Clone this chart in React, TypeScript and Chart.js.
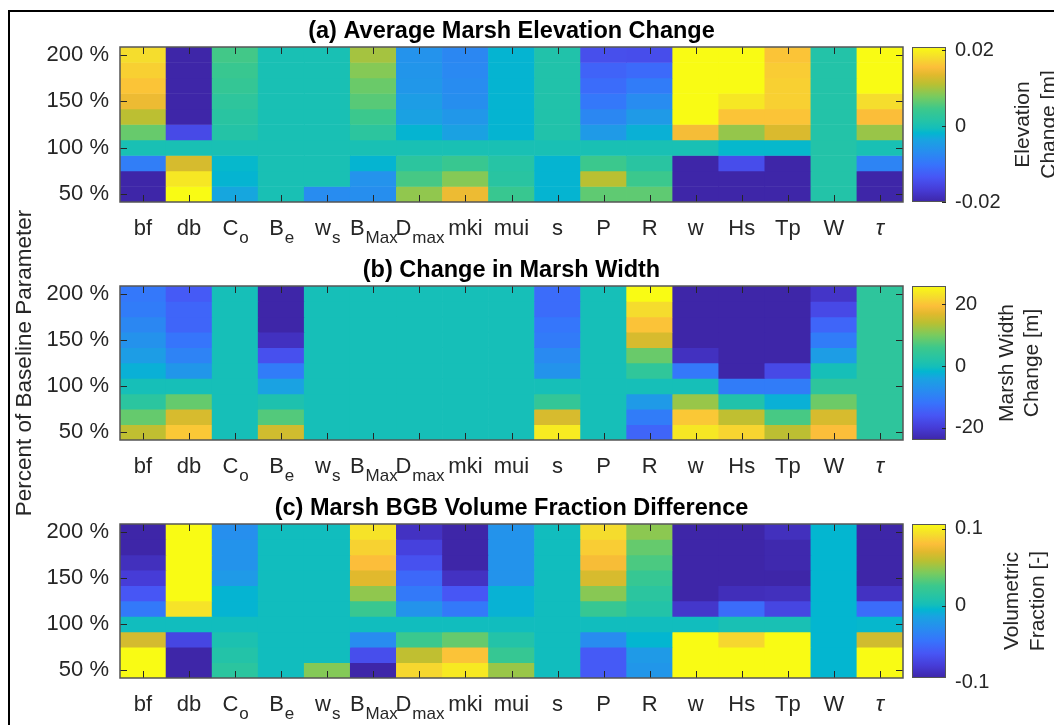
import React, { useEffect, useRef } from "react";
import { Chart, registerables } from "chart.js";

Chart.register(...registerables);

const FONT = "'Liberation Sans', Arial, Helvetica, sans-serif";

// Categories (x) — "_" marks a subscript
const parameters = ["bf", "db", "C_o", "B_e", "w_s", "B_Max", "D_max", "mki", "mui", "s", "P", "R", "w", "Hs", "Tp", "W", "τ"];
// Rows: percent of baseline parameter, top (200 %) to bottom (50 %)
const percentLevels = [200, 183.33, 166.67, 150, 133.33, 116.67, 100, 83.33, 66.67, 50];
const percentTicks = [50, 100, 150, 200];

// (a) Average marsh elevation change [m]
const elevationChange = [
  [0.018, -0.021, 0.0048, 0, 0, 0.010, -0.006, -0.0076, -0.002, 0.001, -0.0144, -0.0146, 0.021, 0.021, 0.016, 0.0012, 0.021],
  [0.017, -0.021, 0.004, 0, 0, 0.0084, -0.0056, -0.0074, -0.002, 0.001, -0.012, -0.0112, 0.021, 0.021, 0.0166, 0.0012, 0.021],
  [0.016, -0.021, 0.0034, 0, 0, 0.007, -0.0054, -0.007, -0.002, 0.001, -0.011, -0.009, 0.021, 0.021, 0.017, 0.0012, 0.021],
  [0.0144, -0.021, 0.0026, 0, 0, 0.006, -0.0046, -0.0066, -0.002, 0.001, -0.0096, -0.007, 0.021, 0.019, 0.017, 0.0012, 0.018],
  [0.0112, -0.021, 0.002, 0, 0, 0.0044, -0.004, -0.0054, -0.002, 0.001, -0.0076, -0.005, 0.021, 0.016, 0.016, 0.0012, 0.0154],
  [0.0068, -0.015, 0.0014, 0, 0, 0.0024, -0.002, -0.004, -0.002, 0.001, -0.005, -0.0024, 0.015, 0.0092, 0.013, 0.0012, 0.0094],
  [0, 0, 0, 0, 0, 0, 0, 0, 0, 0, 0, 0, 0, -0.0016, -0.0016, 0.0012, 0],
  [-0.0088, 0.0128, -0.0016, 0, 0, -0.002, 0.0024, 0.004, 0.0016, -0.002, 0.0044, 0.002, -0.021, -0.0146, -0.021, 0.0012, -0.008],
  [-0.021, 0.019, -0.002, 0, 0, -0.006, 0.005, 0.0084, 0.002, -0.002, 0.011, 0.0044, -0.021, -0.021, -0.021, 0.0012, -0.021],
  [-0.021, 0.021, -0.0034, 0, -0.007, -0.0066, 0.009, 0.0144, 0.004, -0.002, 0.0064, 0.0064, -0.021, -0.021, -0.021, 0.0012, -0.021],
];

// (b) Change in marsh width [m]
const widthChange = [
  [-11.25, -15.5, 0, -25, 0, 0, 0, 0, 0, -13, 0, 26, -25, -25, -25, -21.25, 3.75],
  [-10.5, -14, 0, -25, 0, 0, 0, 0, 0, -13, 0, 22.5, -25, -25, -25, -18, 3.75],
  [-8.75, -14, 0, -25, 0, 0, 0, 0, 0, -11.5, 0, 20, -25, -25, -25, -14, 3.75],
  [-7, -11.75, 0, -22, 0, 0, 0, 0, 0, -10.75, 0, 16.25, -25, -25, -25, -10.5, 3.75],
  [-5, -9.5, 0, -17, 0, 0, 0, 0, 0, -8.25, 0, 9, -22, -25, -25, -5, 3.75],
  [-2.5, -6.25, 0, -10.5, 0, 0, 0, 0, 0, -6.75, 0, 4, -11.25, -24, -18, 0, 3.75],
  [0, 0, 0, -4.25, 0, 0, 0, 0, 0, 0, 0, 0, 0, -10.5, -10.5, 3.75, 3.75],
  [3.25, 8.75, 0, 1.25, 0, 0, 0, 0, 0, 4.5, 0, -5.5, 12, 1.75, -2.5, 9.25, 3.75],
  [8.75, 16.25, 0, 7.5, 0, 0, 0, 0, 0, 16.25, 0, -10.5, 20.5, 14.5, 6.75, 16.25, 3.75],
  [14.5, 20.5, 0, 15.75, 0, 0, 0, 0, 0, 24.25, 0, -14, 23.75, 21.75, 14.25, 19.5, 3.75],
];

// (c) Marsh BGB volume fraction difference [-]
const bgbFraction = [
  [-0.1, 0.11, -0.028, 0, 0, 0.095, -0.085, -0.1, -0.025, 0, 0.092, 0.047, -0.1, -0.1, -0.087, -0.005, -0.1],
  [-0.1, 0.11, -0.025, 0, 0, 0.088, -0.075, -0.1, -0.025, 0, 0.086, 0.037, -0.1, -0.1, -0.092, -0.005, -0.1],
  [-0.087, 0.11, -0.025, 0, 0, 0.08, -0.065, -0.1, -0.025, 0, 0.078, 0.03, -0.1, -0.1, -0.092, -0.005, -0.1],
  [-0.078, 0.11, -0.02, 0, 0, 0.07, -0.052, -0.085, -0.025, 0, 0.067, 0.022, -0.1, -0.1, -0.095, -0.005, -0.1],
  [-0.062, 0.11, -0.006, 0, 0, 0.048, -0.042, -0.062, -0.007, 0, 0.046, 0.015, -0.1, -0.088, -0.087, -0.005, -0.085],
  [-0.042, 0.095, -0.006, 0, 0, 0.024, -0.025, -0.042, -0.007, 0, 0.022, 0.01, -0.082, -0.05, -0.072, -0.005, -0.05],
  [0, 0, 0, 0, 0, 0, 0, 0, 0, 0, 0, 0, 0, 0.004, 0.004, -0.005, -0.004],
  [0.066, -0.072, 0.006, 0, 0, -0.03, 0.025, 0.037, 0.01, 0, -0.03, -0.005, 0.11, 0.09, 0.11, -0.005, 0.065],
  [0.11, -0.1, 0.01, 0, 0, -0.067, 0.06, 0.082, 0.022, 0, -0.06, -0.02, 0.11, 0.11, 0.11, -0.005, 0.11],
  [0.11, -0.1, 0.015, 0, 0.045, -0.1, 0.09, 0.098, 0.05, 0, -0.06, -0.023, 0.11, 0.11, 0.11, -0.005, 0.11],
];

// Colour-bar ticks
const elevTicks = [-0.02, 0, 0.02];
const elevTickLabels = ["-0.02", "0", "0.02"];
const widthTicks = [-20, 0, 20];
const widthTickLabels = ["-20", "0", "20"];
const bgbTicks = [-0.1, 0, 0.1];
const bgbTickLabels = ["-0.1", "0", "0.1"];

// parula-like colormap stops
const parulaStops: [number, number, number, number][] = [
  [0.0, 62, 38, 168],
  [0.08, 70, 60, 215],
  [0.16, 71, 86, 245],
  [0.24, 55, 115, 252],
  [0.32, 40, 140, 240],
  [0.4, 25, 163, 225],
  [0.445, 3, 182, 208],
  [0.475, 20, 190, 186],
  [0.52, 35, 195, 168],
  [0.6, 60, 200, 140],
  [0.68, 120, 203, 95],
  [0.76, 185, 192, 50],
  [0.82, 225, 185, 45],
  [0.87, 252, 190, 58],
  [0.93, 245, 220, 45],
  [1.0, 249, 251, 20],
];

function parula(t: number): string {
  const x = Math.max(0, Math.min(1, t));
  for (let i = 1; i < parulaStops.length; i++) {
    const [t1, r1, g1, b1] = parulaStops[i];
    const [t0, r0, g0, b0] = parulaStops[i - 1];
    if (x <= t1) {
      const f = (x - t0) / (t1 - t0);
      return `rgb(${Math.round(r0 + (r1 - r0) * f)},${Math.round(g0 + (g1 - g0) * f)},${Math.round(b0 + (b1 - b0) * f)})`;
    }
  }
  return "rgb(249,251,20)";
}

type PanelCfg = {
  id: string;
  title: string;
  rows: number[][];
  min: number;
  max: number;
  cbTicks: number[];
  cbTickLabels: string[];
  cbTitle: string[];
  top: number;
  height: number;
  padTop: number;
  padBottom: number;
  yLabel: boolean;
};

const panels: PanelCfg[] = [
  {
    id: "a", title: "(a) Average Marsh Elevation Change", rows: elevationChange,
    min: -0.02, max: 0.0208, cbTicks: elevTicks, cbTickLabels: elevTickLabels,
    cbTitle: ["Elevation", "Change [m]"], top: 0, height: 250, padTop: 47, padBottom: 48, yLabel: false,
  },
  {
    id: "b", title: "(b) Change in Marsh Width", rows: widthChange,
    min: -24, max: 26, cbTicks: widthTicks, cbTickLabels: widthTickLabels,
    cbTitle: ["Marsh Width", "Change [m]"], top: 190, height: 345, padTop: 96, padBottom: 95, yLabel: true,
  },
  {
    id: "c", title: "(c) Marsh BGB Volume Fraction Difference", rows: bgbFraction,
    min: -0.094, max: 0.106, cbTicks: bgbTicks, cbTickLabels: bgbTickLabels,
    cbTitle: ["Volumetric", "Fraction [-]"], top: 478, height: 247, padTop: 46, padBottom: 47, yLabel: false,
  },
];

const HM_W = 910;
const CB_LEFT = 905;
const CB_W = 149;

function heatmapPlugin(p: PanelCfg) {
  return {
    id: "matlabAxes" + p.id,
    afterDraw(chart: any) {
      const { ctx, chartArea: a, scales } = chart;
      const xs = scales.x;
      const ys = scales.y;
      ctx.save();
      // inward tick marks
      ctx.strokeStyle = "#262626";
      ctx.lineWidth = 1;
      ctx.beginPath();
      percentTicks.forEach((v) => {
        const y = Math.round(ys.getPixelForValue(v)) + 0.5;
        ctx.moveTo(a.left, y);
        ctx.lineTo(a.left + 7, y);
        ctx.moveTo(a.right, y);
        ctx.lineTo(a.right - 7, y);
      });
      parameters.forEach((_, i) => {
        const x = Math.round(xs.getPixelForValue(i)) + 0.5;
        ctx.moveTo(x, a.top);
        ctx.lineTo(x, a.top + 7);
        ctx.moveTo(x, a.bottom);
        ctx.lineTo(x, a.bottom - 7);
      });
      ctx.stroke();
      // box
      ctx.strokeStyle = "#555555";
      ctx.lineWidth = 1.5;
      ctx.strokeRect(a.left, a.top, a.right - a.left, a.bottom - a.top);
      // x labels with subscripts
      ctx.fillStyle = "#262626";
      ctx.textBaseline = "alphabetic";
      ctx.textAlign = "left";
      const base = a.bottom + 33;
      parameters.forEach((name, i) => {
        const [main, sub] = name.split("_");
        const mainFont = main === "τ" ? `italic 22px ${FONT}` : `22px ${FONT}`;
        const subFont = `17px ${FONT}`;
        ctx.font = mainFont;
        const mw = ctx.measureText(main).width;
        let sw = 0;
        if (sub) {
          ctx.font = subFont;
          sw = ctx.measureText(sub).width;
        }
        const cx = xs.getPixelForValue(i);
        const start = cx - (mw + sw) / 2;
        ctx.font = mainFont;
        ctx.fillText(main, start, base);
        if (sub) {
          ctx.font = subFont;
          ctx.fillText(sub, start + mw + 1, base + 8);
        }
      });
      // title
      ctx.fillStyle = "#000000";
      ctx.font = `bold 23.5px ${FONT}`;
      ctx.textAlign = "center";
      ctx.fillText(p.title, (a.left + a.right) / 2, a.top - 9);
      // shared y-axis label
      if (p.yLabel) {
        ctx.save();
        ctx.translate(25, (a.top + a.bottom) / 2);
        ctx.rotate(-Math.PI / 2);
        ctx.font = `22.5px ${FONT}`;
        ctx.fillStyle = "#262626";
        ctx.textAlign = "center";
        ctx.textBaseline = "middle";
        ctx.fillText("Percent of Baseline Parameter", 0, 0);
        ctx.restore();
      }
      ctx.restore();
    },
  };
}

function colorbarPlugin(p: PanelCfg) {
  return {
    id: "cbar" + p.id,
    afterDraw(chart: any) {
      const { ctx, chartArea: a, scales } = chart;
      ctx.save();
      ctx.strokeStyle = "#555555";
      ctx.lineWidth = 1;
      ctx.strokeRect(a.left + 0.5, a.top + 0.5, a.right - a.left - 1, a.bottom - a.top - 1);
      ctx.strokeStyle = "#262626";
      ctx.beginPath();
      p.cbTicks.forEach((v) => {
        if (v < p.min || v > p.max) return;
        const y = Math.round(scales.y.getPixelForValue(v)) + 0.5;
        ctx.moveTo(a.right, y);
        ctx.lineTo(a.right - 4, y);
      });
      ctx.stroke();
      ctx.font = `20px ${FONT}`;
      const maxW = Math.max(...p.cbTickLabels.map((s) => ctx.measureText(s).width));
      ctx.font = `21px ${FONT}`;
      ctx.fillStyle = "#262626";
      ctx.textAlign = "center";
      ctx.textBaseline = "middle";
      const cy = (a.top + a.bottom) / 2;
      p.cbTitle.forEach((line, k) => {
        const x = a.right + 9 + maxW + 23 + k * 25.5;
        ctx.save();
        ctx.translate(x, cy);
        ctx.rotate(-Math.PI / 2);
        ctx.fillText(line, 0, 0);
        ctx.restore();
      });
      ctx.restore();
    },
  };
}

function Panel({ p }: { p: PanelCfg }) {
  const hmRef = useRef<HTMLCanvasElement>(null);
  const cbRef = useRef<HTMLCanvasElement>(null);

  useEffect(() => {
    const half = (percentLevels[0] - percentLevels[percentLevels.length - 1]) / (percentLevels.length - 1) / 2;
    const yMin = percentLevels[percentLevels.length - 1] - half;
    const yMax = percentLevels[0] + half;
    const datasets = p.rows.map((row, ri) => ({
      label: `${percentLevels[ri]} %`,
      data: row.map(() => [percentLevels[ri] - half, percentLevels[ri] + half]),
      backgroundColor: row.map((v) => parula((v - p.min) / (p.max - p.min))),
      borderWidth: 0,
      barPercentage: 1,
      categoryPercentage: 1,
      grouped: false,
    }));
    const hm = new Chart(hmRef.current as HTMLCanvasElement, {
      type: "bar",
      data: { labels: parameters, datasets: datasets as any },
      options: {
        responsive: false,
        animation: false,
        layout: { padding: { top: p.padTop, bottom: p.padBottom, left: 0, right: 7 } },
        plugins: { legend: { display: false }, tooltip: { enabled: false }, title: { display: false } },
        scales: {
          x: { display: false, grid: { display: false } },
          y: {
            min: yMin,
            max: yMax,
            grid: { display: false, drawTicks: false },
            border: { display: false },
            afterBuildTicks: (s: any) => {
              s.ticks = percentTicks.map((v) => ({ value: v }));
            },
            afterFit: (s: any) => {
              s.width = 120;
            },
            ticks: {
              padding: 11,
              color: "#262626",
              font: { family: FONT, size: 22 },
              callback: (v: any) => `${v} %`,
            },
          },
        },
      } as any,
      plugins: [heatmapPlugin(p)],
    });

    const cb = new Chart(cbRef.current as HTMLCanvasElement, {
      type: "bar",
      data: {
        labels: [""],
        datasets: [
          {
            data: [[p.min, p.max]] as any,
            borderWidth: 0,
            barPercentage: 1,
            categoryPercentage: 1,
            backgroundColor: (ctx: any) => {
              const chart = ctx.chart;
              const area = chart.chartArea;
              if (!area) return "#14bebe";
              const y0 = chart.scales.y.getPixelForValue(p.min);
              const y1 = chart.scales.y.getPixelForValue(p.max);
              const g = chart.ctx.createLinearGradient(0, y0, 0, y1);
              parulaStops.forEach(([t, r, gg, b]) => g.addColorStop(t, `rgb(${r},${gg},${b})`));
              return g;
            },
          },
        ],
      },
      options: {
        responsive: false,
        animation: false,
        layout: { padding: { top: p.padTop, bottom: p.padBottom, left: 7, right: 0 } },
        plugins: { legend: { display: false }, tooltip: { enabled: false } },
        scales: {
          x: { display: false, grid: { display: false } },
          y: {
            position: "right",
            min: p.min,
            max: p.max,
            grid: { display: false, drawTicks: false },
            border: { display: false },
            afterBuildTicks: (s: any) => {
              s.ticks = p.cbTicks.map((v) => ({ value: v }));
            },
            afterFit: (s: any) => {
              s.width = 108;
            },
            ticks: {
              padding: 9,
              color: "#262626",
              font: { family: FONT, size: 20 },
              callback: (_v: any, i: number) => p.cbTickLabels[i],
            },
          },
        },
      } as any,
      plugins: [colorbarPlugin(p)],
    });

    return () => {
      hm.destroy();
      cb.destroy();
    };
  }, [p]);

  return (
    <>
      <canvas
        ref={hmRef}
        width={HM_W}
        height={p.height}
        style={{ position: "absolute", left: 0, top: p.top, width: HM_W, height: p.height }}
      />
      <canvas
        ref={cbRef}
        width={CB_W}
        height={p.height}
        style={{ position: "absolute", left: CB_LEFT, top: p.top, width: CB_W, height: p.height }}
      />
    </>
  );
}

export default function App() {
  return (
    <div
      style={{
        position: "fixed",
        left: 0,
        top: 0,
        width: 1054,
        height: 725,
        overflow: "hidden",
        background: "#ffffff",
      }}
    >
      <div
        style={{
          position: "absolute",
          left: 8,
          top: 10,
          width: 1200,
          height: 900,
          border: "2px solid #000",
        }}
      />
      {panels.map((p) => (
        <Panel key={p.id} p={p} />
      ))}
    </div>
  );
}
